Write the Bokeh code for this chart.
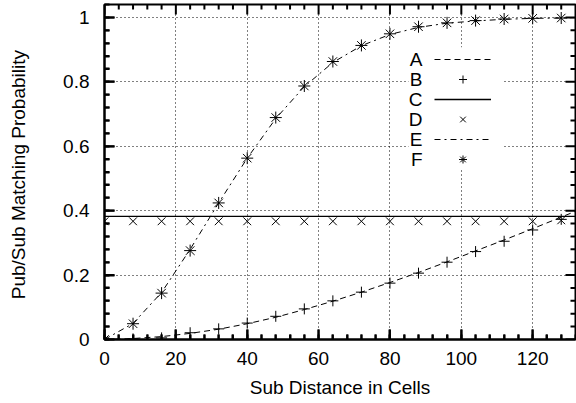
from bokeh.plotting import figure
from bokeh.models import (Range1d, SingleIntervalTicker, CustomJSTickFormatter, ColumnDataSource,
                          Legend, LegendItem, Label, BoxAnnotation, Whisker)
from bokeh.embed import file_html
from bokeh.resources import INLINE

# ---- data ----
cells = [0, 8, 16, 24, 32, 40, 48, 56, 64, 72, 80, 88, 96, 104, 112, 120, 128]
curve_cells = [0, 8, 16, 24, 32, 40, 48, 56, 64, 72, 80, 88, 96, 104, 112, 120, 128, 132]

series_a = [0.0, 0.003, 0.009, 0.019, 0.032, 0.049, 0.069, 0.093, 0.119, 0.147,
            0.177, 0.208, 0.241, 0.275, 0.309, 0.344, 0.380, 0.398]
series_b = [0.0, 0.002, 0.005, 0.021, 0.033, 0.051, 0.072, 0.095, 0.120, 0.147,
            0.175, 0.206, 0.240, 0.273, 0.305, 0.340, 0.373]
series_c = [0.382, 0.382, 0.382, 0.382, 0.382, 0.382, 0.382, 0.382, 0.382, 0.382,
            0.382, 0.382, 0.382, 0.382, 0.382, 0.382, 0.382, 0.382]
series_d = [0.367, 0.367, 0.367, 0.367, 0.367, 0.367, 0.367, 0.367, 0.367, 0.367,
            0.367, 0.367, 0.367, 0.367, 0.367, 0.367, 0.370]
series_e = [0.0, 0.050, 0.146, 0.280, 0.424, 0.563, 0.686, 0.785, 0.860, 0.912,
            0.947, 0.969, 0.982, 0.989, 0.994, 0.997, 0.998, 0.999]
series_f = [0.0, 0.049, 0.144, 0.276, 0.424, 0.563, 0.689, 0.787, 0.863, 0.913,
            0.949, 0.971, 0.983, 0.990, 0.995, 0.997, 0.998]

legend_names = ["A", "B", "C", "D", "E", "F"]
x_title = "Sub Distance in Cells"
y_title = "Pub/Sub  Matching Probability"

# tick positions
x_major = [0, 20, 40, 60, 80, 100, 120]
x_minor = [4, 8, 12, 16, 24, 28, 32, 36, 44, 48, 52, 56, 64, 68, 72, 76,
           84, 88, 92, 96, 104, 108, 112, 116, 124, 128]
y_major = [0, 0.2, 0.4, 0.6, 0.8, 1.0]
y_minor = [0.04, 0.08, 0.12, 0.16, 0.24, 0.28, 0.32, 0.36, 0.44, 0.48, 0.52, 0.56,
           0.64, 0.68, 0.72, 0.76, 0.84, 0.88, 0.92, 0.96]

X_END = 132
Y_END = 1.04
FONT = "Liberation Sans"
FS = "19px"
W, H = 576, 403
BL, BR, BT, BB = 104, 1, 4, 64

p = figure(width=W, height=H, x_range=Range1d(0, X_END), y_range=Range1d(0, Y_END),
           output_backend="svg", toolbar_location=None,
           min_border_left=BL, min_border_right=BR, min_border_top=BT, min_border_bottom=BB)
p.outline_line_color = "black"
p.outline_line_width = 2
p.background_fill_color = "white"

bottom_axis = p.below[0]
left_axis = p.left[0]

xt = SingleIntervalTicker(interval=20, num_minor_ticks=5)
yt = SingleIntervalTicker(interval=0.2, num_minor_ticks=5)
yfmt = CustomJSTickFormatter(code="return (Math.round(tick*10)/10).toString();")

bottom_axis.ticker = xt
left_axis.ticker = yt
left_axis.formatter = yfmt
p.xgrid.ticker = xt
p.ygrid.ticker = yt

for ax in [bottom_axis, left_axis]:
    ax.axis_line_width = 2
    ax.axis_line_color = "black"
    ax.major_tick_in = 10
    ax.major_tick_out = 0
    ax.minor_tick_in = 5
    ax.minor_tick_out = 0
    ax.major_tick_line_width = 2
    ax.minor_tick_line_width = 2
    ax.major_tick_line_color = "black"
    ax.minor_tick_line_color = "black"
    ax.major_label_text_font = FONT
    ax.major_label_text_font_size = FS
    ax.major_label_text_color = "black"
    ax.axis_label_text_font = FONT
    ax.axis_label_text_font_size = FS
    ax.axis_label_text_font_style = "normal"
    ax.axis_label_text_color = "black"

bottom_axis.axis_label = x_title
bottom_axis.major_label_standoff = 12
bottom_axis.axis_label_standoff = 9
left_axis.axis_label = y_title
left_axis.major_label_standoff = 15
left_axis.axis_label_standoff = 31

for g in [p.xgrid[0], p.ygrid[0]]:
    g.grid_line_color = "black"
    g.grid_line_width = 1
    g.grid_line_dash = "1 3"

# white key background covering the grid
key_bg = BoxAnnotation(left=85.2, right=111.8, bottom=0.531, top=0.907,
                       fill_color="white", fill_alpha=1.0, line_color=None, level="underlay")
p.add_layout(key_bg)

# tick marks pointing into the frame on all four borders, drawn as head-less whiskers
x_per_px = X_END / (W - BL - BR)
y_per_px = Y_END / (H - BT - BB)


def tick_whisker(base, lower, upper, dim):
    src = ColumnDataSource(dict(base=base, lower=lower, upper=upper))
    return Whisker(source=src, base="base", lower="lower", upper="upper", dimension=dim,
                   line_color="black", line_width=2, lower_head=None, upper_head=None)


for xs, ln in [(x_major, 10), (x_minor, 5)]:
    dy = ln * y_per_px
    n = len(xs)
    p.add_layout(tick_whisker(xs, [0] * n, [dy] * n, "height"))
    p.add_layout(tick_whisker(xs, [Y_END - dy] * n, [Y_END] * n, "height"))
for ys, ln in [(y_major, 10), (y_minor, 5)]:
    dx = ln * x_per_px
    n = len(ys)
    p.add_layout(tick_whisker(ys, [0] * n, [dx] * n, "width"))
    p.add_layout(tick_whisker(ys, [X_END - dx] * n, [X_END] * n, "width"))

ra = p.line(curve_cells, series_a, line_color="black", line_width=1, line_dash="6 4")
rc = p.line(curve_cells, series_c, line_color="black", line_width=1.3)
re = p.line(curve_cells, series_e, line_color="black", line_width=1, line_dash="6 4 2 4")
rb = p.scatter(cells, series_b, marker="cross", size=11, line_color="black", line_width=1)
rd = p.scatter(cells, series_d, marker="x", size=11, line_color="black", line_width=1)
rf = p.scatter(cells, series_f, marker="asterisk", size=12, line_color="black", line_width=1)

renderers = [ra, rb, rc, rd, re, rf]
legend = Legend(items=[LegendItem(label=" ", renderers=[r]) for r in renderers],
                location=(330, 170), glyph_width=57, glyph_height=20, label_height=20,
                spacing=0, padding=0, margin=0, label_standoff=0, label_width=0,
                label_text_font_size="1px", background_fill_alpha=0, border_line_alpha=0)
p.add_layout(legend)

for i, name in enumerate(legend_names):
    p.add_layout(Label(x=318, y=280 - 20 * i, x_units="screen", y_units="screen", text=name,
                       text_align="right", text_baseline="middle",
                       text_font=FONT, text_font_size=FS, text_color="black"))

open("out.html", "w").write(file_html(p, INLINE))
